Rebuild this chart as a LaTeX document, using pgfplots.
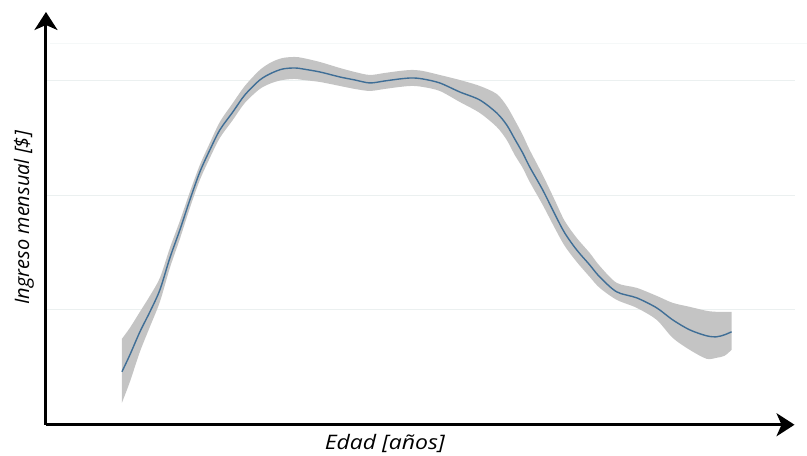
\documentclass[border=0pt]{standalone}
\usepackage{fontspec}
\setmainfont{Open Sans}
\usepackage{pgfplots}
\pgfplotsset{compat=1.18}
\usepackage{pgfplotstable}
\usepgfplotslibrary{fillbetween}
\usetikzlibrary{arrows.meta}
\definecolor{bandgray}{HTML}{C4C4C4}
\definecolor{meanblue}{HTML}{3F6E96}
\definecolor{gridc}{HTML}{EBF0F0}
\definecolor{gridf}{HTML}{F5F8F8}
% columns: x (pixel), mean, upper, lower (pixel rows, top = 0)
\pgfplotstableread{
x    m    u    l
122  372  339  403
130  355  328  382
140  332  312  352
150  312  296  327
160  290  278  302
170  258  248  268
180  230  221  239
190  200  192  208
200  172  165  180
210  150  143  158
220  130  122  138
233  112  103  120
245  95   86   103
260  80   70   89
272  73   62   83
283  69   58   80
295  68   57   79
303  69   58   80
320  72   62   82
340  77   68   86
355  80   72   89
370  83   75   91
385  81   73   89
400  79   71   87
412  78   70   86
423  79   71   87
440  83   75   91
460  92   80   102
480  100  86   113
497  113  94   127
507  125  106  140
515  139  120  155
523  153  135  168
530  167  150  182
543  190  175  205
555  214  200  228
565  233  221  246
577  250  238  262
590  265  253  277
600  277  266  288
617  292  283  300
637  298  288  308
657  308  296  320
673  320  303  338
690  330  307  350
707  336  311  359
717  337  312  358
725  335  312  356
732  332  312  350
}\curve
\begin{document}
\begin{tikzpicture}
\begin{axis}[
  x=1pt, y=1pt,
  xmin=46, xmax=795, ymin=31, ymax=444,
  axis lines=left,
  axis line style={line width=3pt, -{Stealth[length=18pt,width=23pt,inset=5pt]}},
  xtick=\empty,
  ytick={146,260,375},
  yticklabels={},
  major tick length=0pt,
  ymajorgrids,
  grid style={gridc, line width=1pt},
  clip=false,
]
\path (axis cs:0,0) rectangle (axis cs:807,456);
\draw[gridf, line width=1pt] (axis cs:50,412) -- (axis cs:807,412);
\addplot[name path=U, draw=none, smooth] table[x=x, y expr=456-\thisrow{u}] {\curve};
\addplot[name path=L, draw=none, smooth] table[x=x, y expr=456-\thisrow{l}] {\curve};
\addplot[bandgray, draw=none] fill between[of=U and L];
\addplot[meanblue, line width=1.4pt, smooth] table[x=x, y expr=456-\thisrow{m}] {\curve};
\node[rotate=90, overlay, font=\fontsize{20}{24}\selectfont\itshape, text=black] at (axis cs:24,238) {Ingreso mensual [\$]};
\node[overlay, anchor=base, inner sep=0pt, xscale=1.15, font=\fontsize{20}{24}\selectfont\itshape, text=black] at (axis cs:385,6) {Edad [años]};
\end{axis}
\end{tikzpicture}
\end{document}
